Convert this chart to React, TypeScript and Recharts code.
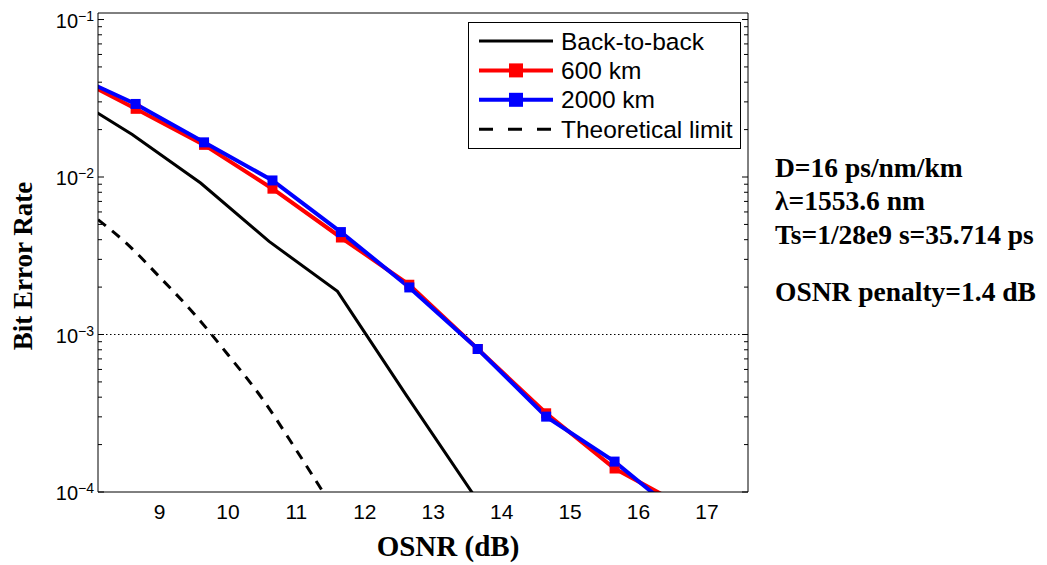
import { Legend, Line, LineChart, ReferenceLine, XAxis, YAxis } from "recharts";

const osnrTx = [7.65, 8.65, 9.65, 10.65, 11.65, 12.65, 13.65, 14.65, 15.65, 16.65];
const ber600km = [0.0456, 0.0271, 0.016, 0.00843, 0.00413, 0.00207, 0.000809, 0.000316, 0.000141, 0.0000817];
const ber2000km = [0.0461, 0.0291, 0.0166, 0.00951, 0.00447, 0.00199, 0.000809, 0.000301, 0.000156, 0.0000686];

const osnrB2b = [7.6, 8.6, 9.6, 10.6, 11.6, 12.6, 13.6];
const berB2b = [0.0346, 0.0186, 0.00916, 0.0039, 0.00188, 0.000415, 0.0000946];

const osnrTheory = [8.1, 8.5, 9, 9.5, 10, 10.5, 11, 11.4];
const berTheory = [0.00536, 0.00385, 0.00232, 0.00136, 0.000744, 0.000392, 0.000184, 0.0000984];

const xTicks = [9, 10, 11, 12, 13, 14, 15, 16, 17];
const yMajorTicks = [1e-4, 1e-3, 1e-2, 1e-1];
const yMinorTicks = [1e-4, 1e-3, 1e-2].flatMap((d) => [2, 3, 4, 5, 6, 7, 8, 9].map((m) => m * d));
const yAllTicks = [...yMajorTicks, ...yMinorTicks].sort((a, b) => a - b);
const berThreshold = 1e-3;

const seriesNames = ["Back-to-back", "600 km", "2000 km", "Theoretical limit"];
const notes = ["D=16 ps/nm/km", "\u03bb=1553.6 nm", "Ts=1/28e9 s=35.714 ps", "OSNR penalty=1.4 dB"];

const X_DOMAIN: [number, number] = [8.1, 17.6];
const Y_DOMAIN: [number, number] = [1e-4, 0.11];

const serif = '"Liberation Serif", "Times New Roman", serif';
const sans = '"Liberation Sans", Arial, sans-serif';

const toPoints = (xs: number[], ys: number[]) => xs.map((osnr, i) => ({ osnr, ber: ys[i] }));

const legendStyles = [
  { color: "#000000", width: 3, dash: undefined as string | undefined, marker: false },
  { color: "#ff0000", width: 4, dash: undefined, marker: true },
  { color: "#0000ff", width: 4, dash: undefined, marker: true },
  { color: "#000000", width: 3, dash: "14 15", marker: false },
];

function PowerTick(props: any) {
  const { x, y, payload } = props;
  const exp = Math.round(Math.log10(payload.value));
  return (
    <text x={x} y={y} textAnchor="end" fontFamily={sans} fill="#000">
      <tspan fontSize={20} dy={8}>10</tspan>
      <tspan fontSize={14} dy={-7}>{`\u2212${Math.abs(exp)}`}</tspan>
    </text>
  );
}

// inward tick marks for the log axis, longer on decades
const yTickMark = (dir: number) => (props: any) => {
  const { x, y, payload } = props;
  const len = yMajorTicks.includes(payload.value) ? 6 : 4;
  return <line x1={x} x2={x + dir * len} y1={y} y2={y} stroke="#000" strokeWidth={1} />;
};

const NoLabel = () => <g />;

const squareDot = (color: string) => (p: any) => {
  if (p.cx == null || p.cy == null) return <g key={`${color}-${p.index}`} />;
  return <rect key={`${color}-${p.index}`} x={p.cx - 5} y={p.cy - 5} width={10} height={10} fill={color} />;
};

function LegendBox() {
  return (
    <svg width={273} height={127} style={{ display: "block" }}>
      <rect x={0.5} y={0.5} width={272} height={126} fill="#fff" stroke="#000" />
      {seriesNames.map((name, i) => {
        const cy = 19 + i * 29.4;
        const s = legendStyles[i];
        return (
          <g key={name}>
            <line x1={11} x2={85} y1={cy} y2={cy} stroke={s.color} strokeWidth={s.width} strokeDasharray={s.dash} />
            {s.marker && <rect x={41} y={cy - 7} width={14} height={14} fill={s.color} />}
            <text x={93} y={cy + 8.5} fontSize={24.5} fontFamily={sans} fill="#000">
              {name}
            </text>
          </g>
        );
      })}
    </svg>
  );
}

const noteY = [177, 210, 244, 301];

export default function App() {
  const axisCommon = { type: "number" as const, domain: X_DOMAIN, allowDataOverflow: true, ticks: xTicks, interval: 0 as const };
  const yCommon = { scale: "log" as const, domain: Y_DOMAIN, allowDataOverflow: true, interval: 0 as const };

  return (
    <div style={{ position: "absolute", left: 0, top: 0, width: 1047, height: 565, background: "#fff" }}>
      <LineChart width={1047} height={565} margin={{ top: 13, right: 299, bottom: 43, left: 0 }}>
        <XAxis
          xAxisId="x"
          dataKey="osnr"
          {...axisCommon}
          height={30}
          tickLine={false}
          tickSize={0}
          tickMargin={12}
          axisLine={{ stroke: "#000" }}
          tick={{ fill: "#000", fontSize: 21, fontFamily: sans }}
        />
        <XAxis
          xAxisId="xb"
          orientation="bottom"
          mirror
          {...axisCommon}
          height={1}
          tick={<NoLabel />}
          tickLine={{ stroke: "#000" }}
          tickSize={5}
          axisLine={false}
        />
        <XAxis
          xAxisId="xt"
          orientation="top"
          mirror
          {...axisCommon}
          height={1}
          tick={<NoLabel />}
          tickLine={{ stroke: "#000" }}
          tickSize={5}
          axisLine={{ stroke: "#000" }}
        />

        <YAxis
          yAxisId="y"
          {...yCommon}
          ticks={yMajorTicks}
          width={98}
          tickLine={false}
          tickSize={0}
          tickMargin={4}
          axisLine={{ stroke: "#000" }}
          tick={<PowerTick />}
        />
        <YAxis
          yAxisId="yl"
          orientation="left"
          mirror
          {...yCommon}
          ticks={yAllTicks}
          width={1}
          tickLine={false}
          tickSize={0}
          tickMargin={0}
          axisLine={false}
          tick={yTickMark(1)}
        />
        <YAxis
          yAxisId="yr"
          orientation="right"
          mirror
          {...yCommon}
          ticks={yAllTicks}
          width={1}
          tickLine={false}
          tickSize={0}
          tickMargin={0}
          axisLine={{ stroke: "#000" }}
          tick={yTickMark(-1)}
        />

        <ReferenceLine xAxisId="x" yAxisId="y" y={berThreshold} stroke="#000" strokeWidth={1} strokeDasharray="1.5 2.5" />

        <Line
          xAxisId="x"
          yAxisId="y"
          data={toPoints(osnrB2b, berB2b)}
          dataKey="ber"
          name={seriesNames[0]}
          type="linear"
          stroke="#000"
          strokeWidth={3}
          dot={false}
          isAnimationActive={false}
        />
        <Line
          xAxisId="x"
          yAxisId="y"
          data={toPoints(osnrTheory, berTheory)}
          dataKey="ber"
          name={seriesNames[3]}
          type="monotone"
          stroke="#000"
          strokeWidth={3}
          strokeDasharray="10 8"
          dot={false}
          isAnimationActive={false}
        />
        <Line
          xAxisId="x"
          yAxisId="y"
          data={toPoints(osnrTx, ber600km)}
          dataKey="ber"
          name={seriesNames[1]}
          type="linear"
          stroke="#ff0000"
          strokeWidth={4}
          dot={squareDot("#ff0000")}
          isAnimationActive={false}
        />
        <Line
          xAxisId="x"
          yAxisId="y"
          data={toPoints(osnrTx, ber2000km)}
          dataKey="ber"
          name={seriesNames[2]}
          type="linear"
          stroke="#0000ff"
          strokeWidth={4}
          dot={squareDot("#0000ff")}
          isAnimationActive={false}
        />

        <Legend
          layout="vertical"
          align="center"
          verticalAlign="middle"
          content={() => <LegendBox />}
          wrapperStyle={{ left: 468, top: 22, width: 273, height: 127, lineHeight: 0 }}
        />
      </LineChart>

      <svg width={1047} height={565} style={{ position: "absolute", left: 0, top: 0, pointerEvents: "none" }}>
        <text
          transform="translate(32,266) rotate(-90)"
          textAnchor="middle"
          fontFamily={serif}
          fontWeight="bold"
          fontSize={27}
          fill="#000"
        >
          Bit Error Rate
        </text>
        <text x={448} y={556} textAnchor="middle" fontFamily={serif} fontWeight="bold" fontSize={29} fill="#000">
          OSNR (dB)
        </text>
        {notes.map((t, i) => (
          <text key={t} x={775} y={noteY[i]} fontFamily={serif} fontWeight="bold" fontSize={27.5} fill="#000">
            {t}
          </text>
        ))}
      </svg>
    </div>
  );
}
